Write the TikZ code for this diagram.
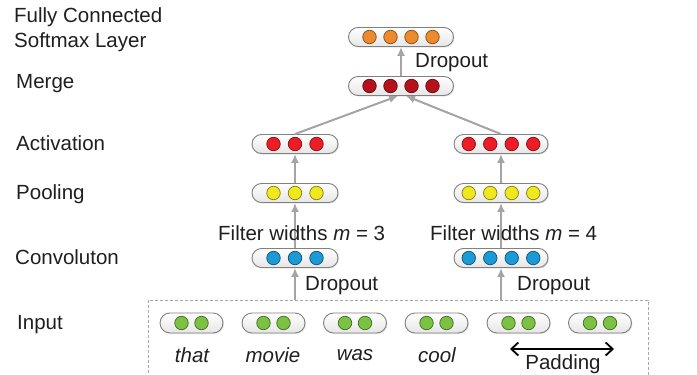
\documentclass[tikz,border=0pt]{standalone}
\usepackage{fontspec}
\setmainfont{Liberation Sans}
\usetikzlibrary{arrows.meta,shapes.misc,shadows}
\definecolor{corange}{HTML}{EE8A2E}
\definecolor{cdred}{HTML}{B5121B}
\definecolor{cred}{HTML}{EE1C25}
\definecolor{cyellow}{HTML}{F0E81E}
\definecolor{cblue}{HTML}{1C9AD6}
\definecolor{cgreen}{HTML}{7CC242}
\definecolor{arrgray}{HTML}{A4A4A4}
\newcommand\pillrow[7]{% name, x, y, n, color, width, spacing
  \node[pillbox, minimum width=#6pt] (#1) at (#2,#3) {};
  \foreach \i in {1,...,#4} {
    \node[dot=#5] (#1-\i) at ({#2+(\i-(#4+1)/2)*#7},#3) {};
  }
}
\begin{document}
\begin{tikzpicture}[x=1pt,y=-1pt,
  txt/.style={font=\fontsize{20.5}{24}\selectfont, text=black!88, inner sep=0pt},
  lbl/.style={txt, anchor=west},
  pillbox/.style={rounded rectangle, draw=black!50, line width=0.9pt,
    top color=white, bottom color=black!10, minimum height=19pt, inner sep=0pt,
    drop shadow={shadow xshift=1pt, shadow yshift=-1pt, opacity=0.25, fill=black!40}},
  dot/.style={circle, minimum size=13.5pt, inner sep=0pt, fill=#1, draw=#1!55!black, line width=0.7pt},
  arr/.style={draw=arrgray, line width=2pt, -{Latex[length=9pt,width=8pt]}},
  padarr/.style={draw=black, line width=1.8pt, {Straight Barb[length=7pt,width=13pt]}-{Straight Barb[length=7pt,width=13pt]}}
]
\useasboundingbox (0,0) rectangle (697,375);

% left labels
\node[lbl] (lfc) at (14,17) {Fully Connected};
\node[lbl] (lsm) at (14,42) {Softmax Layer};
\node[lbl] (lmerge) at (16,84) {Merge};
\node[lbl] (lact) at (16,143) {Activation};
\node[lbl] (lpool) at (16,194) {Pooling};
\node[lbl] (lconv) at (15,257) {Convoluton};
\node[lbl] (lin) at (17,325) {Input};

% input dashed box
\node[draw=black!35, dash pattern=on 3pt off 2pt, line width=0.8pt, minimum width=500pt, minimum height=90pt,
  anchor=north west, inner sep=0pt] (inbox) at (148,300) {};

% layers
\pillrow{soft}{401}{37}{4}{corange}{105}{21}
\pillrow{merge}{401}{86}{4}{cdred}{105}{21}
\pillrow{actL}{295}{144}{3}{cred}{86}{21.5}
\pillrow{actR}{501}{144}{4}{cred}{94}{21.5}
\pillrow{poolL}{295}{193}{3}{cyellow}{86}{21.5}
\pillrow{poolR}{501}{193}{4}{cyellow}{94}{21.5}
\pillrow{convL}{295}{258}{3}{cblue}{86}{21.5}
\pillrow{convR}{501}{258}{4}{cblue}{94}{21.5}

% input words
\begin{scope}[pillbox/.append style={minimum height=20pt}]
\pillrow{in1}{191.5}{323}{2}{cgreen}{63}{20}
\pillrow{in2}{273.5}{323}{2}{cgreen}{63}{20}
\pillrow{in3}{355}{323}{2}{cgreen}{63}{20}
\pillrow{in4}{436.5}{323}{2}{cgreen}{63}{20}
\pillrow{in5}{518.5}{323}{2}{cgreen}{63}{20}
\pillrow{in6}{600}{323}{2}{cgreen}{63}{20}
\end{scope}

\node[txt, font=\fontsize{20.5}{24}\selectfont\itshape] (w1) at (192,355) {that};
\node[txt, font=\fontsize{20.5}{24}\selectfont\itshape] (w2) at (273,355) {movie};
\node[txt, font=\fontsize{20.5}{24}\selectfont\itshape] (w3) at (355,355) {was};
\node[txt, font=\fontsize{20.5}{24}\selectfont\itshape] (w4) at (437,355) {cool};

% padding
\coordinate (padL) at (510,349);
\coordinate (padR) at (614,349);
\draw[padarr] (padL) -- (padR);
\node[txt] (pad) at (563,364) {Padding};

% arrows
\draw[arr] (inbox.north -| convL) -- (convL.south);
\draw[arr] (inbox.north -| convR) -- (convR.south);
\draw[arr] (convL.north) -- (poolL.south);
\draw[arr] (convR.north) -- (poolR.south);
\draw[arr] (poolL.north) -- (actL.south);
\draw[arr] (poolR.north) -- (actR.south);
\draw[arr] (actL.north) -- ([xshift=-3pt]merge.south);
\draw[arr] (actR.north) -- ([xshift=5pt]merge.south);
\draw[arr] (merge.north) -- (soft.south);

% annotations
\node[lbl] (d0) at (415,63) {Dropout};
\node[lbl] (d1) at (305,286) {Dropout};
\node[lbl] (d2) at (517,286) {Dropout};
\node[lbl] (f1) at (218,233) {Filter widths \textit{m} = 3};
\node[lbl] (f2) at (430,233) {Filter widths \textit{m} = 4};
\end{tikzpicture}
\end{document}
